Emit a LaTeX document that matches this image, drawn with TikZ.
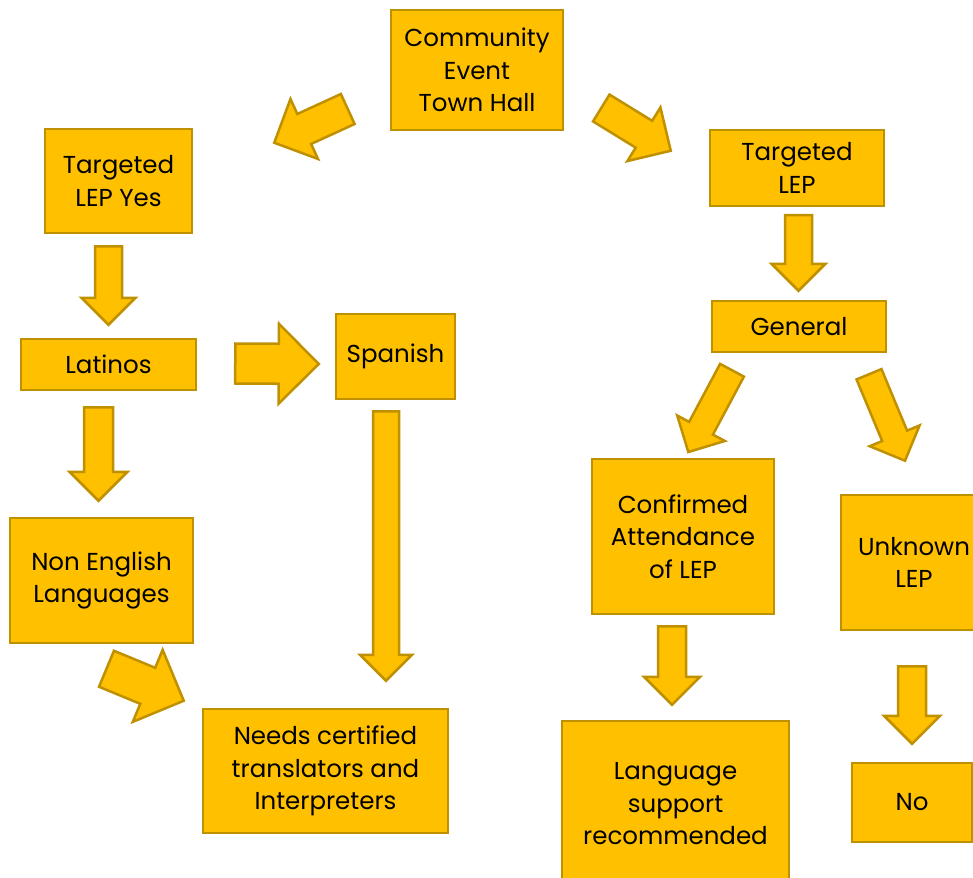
\documentclass[tikz,border=0pt]{standalone}
\usepackage{fontspec}
\setmainfont{Poppins}
\usetikzlibrary{calc}
\definecolor{gold}{HTML}{FFC000}
\definecolor{golddark}{HTML}{BF9000}
\tikzset{
  box/.style={draw=golddark,fill=gold,line width=2.5pt,align=center,inner sep=0pt,
    font=\fontsize{24.5}{32.5}\selectfont},
  aw/.code={\pgfmathsetmacro\aw{#1}\pgfmathsetmacro\ah{#1/2}},
  aw=28,
  barrow/.style={draw=golddark,fill=gold,line width=2.5pt,line join=miter,
    to path={($(\tikztostart)!\ah pt!90:(\tikztotarget)$)
      -- ($(\tikztotarget)!\aw pt!(\tikztostart)!\ah pt!90:(\tikztotarget)$)
      -- ($(\tikztotarget)!\aw pt!(\tikztostart)!\aw pt!90:(\tikztotarget)$)
      -- (\tikztotarget)
      -- ($(\tikztotarget)!\aw pt!(\tikztostart)!\aw pt!-90:(\tikztotarget)$)
      -- ($(\tikztotarget)!\aw pt!(\tikztostart)!\ah pt!-90:(\tikztotarget)$)
      -- ($(\tikztostart)!\ah pt!-90:(\tikztotarget)$) -- cycle}}
}
\begin{document}
\begin{tikzpicture}[x=1pt,y=-1pt]
  \useasboundingbox (0,0) rectangle (973,877);
  % boxes
  \node[box,minimum width=172pt,minimum height=120pt] (town) at (477,70) {Community\\Event\\Town Hall};
  \node[box,minimum width=147pt,minimum height=104pt] (tly) at (118.5,181) {Targeted\\LEP Yes};
  \node[box,minimum width=174pt,minimum height=76pt] (tlep) at (797,168) {Targeted\\LEP};
  \node[box,minimum width=175pt,minimum height=51pt] (lat) at (108.5,364.5) {Latinos};
  \node[box,minimum width=119pt,minimum height=85pt] (spa) at (395.5,356.5) {Spanish};
  \node[box,minimum width=174pt,minimum height=51pt] (gen) at (799,326.5) {General};
  \node[box,minimum width=183pt,minimum height=125pt] (nel) at (101.5,580.5) {Non English\\Languages};
  \node[box,minimum width=182pt,minimum height=155pt] (conf) at (683,536.5) {Confirmed\\Attendance\\of LEP};
  \node[box,minimum width=146pt,minimum height=135pt] (unk) at (914,562.5) {Unknown\\LEP};
  \node[box,minimum width=245pt,minimum height=124pt] (need) at (325.5,771) {Needs certified\\translators and\\Interpreters};
  \node[box,minimum width=227pt,minimum height=166pt] (lang) at (675.5,804) {Language\\support\\recommended};
  \node[box,minimum width=120pt,minimum height=79pt] (no) at (912,802.5) {No};
  % block arrows
  \draw[barrow,aw=33] ($(town.west)+(-42,39)$) to ($(tly.north east)+(81,15)$);
  \draw[barrow,aw=31.5] ($(town.east)+(37,38)$) to ($(tlep.north west)+(-38,22)$);
  \draw[barrow,aw=27] ($(tly.south)+(-10,12)$) to ($(lat.north)+(0,-13)$);
  \draw[barrow,aw=40] ($(lat.east)+(38,-1)$) to ($(spa.west)+(-16,7.5)$);
  \draw[barrow,aw=29] ($(lat.south)+(-10,16)$) to ($(nel.north)+(-3,-16)$);
  \draw[barrow,aw=26] ($(spa.south)+(-9.5,11)$) to ($(need.north)+(60.5,-27)$);
  \draw[barrow,aw=39] ($(nel.south)+(5,24.5)$) to ($(need.north west)+(-18,-7)$);
  \draw[barrow,aw=27] ($(tlep.south)+(1.5,8)$) to ($(gen.north)+(-0.5,-9)$);
  \draw[barrow,aw=27] ($(gen.south)+(-67,17)$) to ($(conf.north)+(5.3,-5.7)$);
  \draw[barrow,aw=27] ($(gen.south)+(70,21)$) to ($(unk.north)+(-9,-33)$);
  \draw[barrow,aw=28] ($(conf.south)+(-11,11)$) to ($(lang.north)+(-3.5,-15)$);
  \draw[barrow,aw=28] ($(unk.south)+(-2,35)$) to ($(no.north)+(0,-18)$);
\end{tikzpicture}
\end{document}
